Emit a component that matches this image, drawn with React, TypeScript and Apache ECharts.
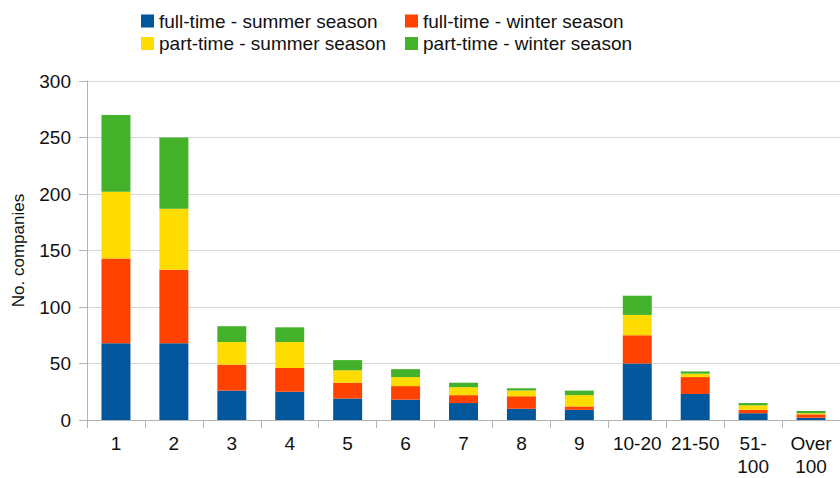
import React, { useEffect, useRef } from "react";
import * as echarts from "echarts";

const categories = ["1", "2", "3", "4", "5", "6", "7", "8", "9", "10-20", "21-50", "51-\n100", "Over\n100"];
const fullTimeSummer = [68, 68, 26, 25, 19, 18, 15, 10, 9, 50, 23, 6, 2];
const fullTimeWinter = [75, 65, 23, 21, 14, 12, 7, 11, 3, 25, 15, 3, 3];
const partTimeSummer = [59, 54, 20, 23, 11, 8, 7, 5, 10, 18, 3, 4, 1];
const partTimeWinter = [68, 63, 14, 13, 9, 7, 4, 2, 4, 17, 2, 2, 2];

const seriesNames = [
  "full-time - summer season",
  "full-time - winter season",
  "part-time - summer season",
  "part-time - winter season",
];
const colors = ["#02569b", "#ff4200", "#ffdc00", "#44b12a"];
const FONT = "'Liberation Sans', Arial, Helvetica, sans-serif";

export default function App() {
  const ref = useRef<HTMLDivElement>(null);
  useEffect(() => {
    if (!ref.current) return;
    const chart = echarts.init(ref.current, undefined, { renderer: "svg" });
    const dataSets = [fullTimeSummer, fullTimeWinter, partTimeSummer, partTimeWinter];
    const legendCommon = {
      orient: "vertical" as const,
      top: 11,
      padding: 0,
      itemGap: 2.5,
      itemWidth: 13,
      itemHeight: 13,
      icon: "rect",
      textStyle: { fontFamily: FONT, fontSize: 19, color: "#111", lineHeight: 20 },
    };
    chart.setOption({
      animation: false,
      color: colors,
      textStyle: { fontFamily: FONT },
      legend: [
        { ...legendCommon, left: 141, data: [seriesNames[0], seriesNames[2]] },
        { ...legendCommon, left: 405, data: [seriesNames[1], seriesNames[3]] },
      ],
      grid: { left: 87, top: 81, width: 758, height: 341, containLabel: false },
      xAxis: {
        type: "category",
        data: categories,
        boundaryGap: true,
        axisLine: { show: true, lineStyle: { color: "#b3b3b3", width: 1 } },
        axisTick: { show: true, length: 8, lineStyle: { color: "#b3b3b3" } },
        axisLabel: {
          fontFamily: FONT,
          fontSize: 19,
          color: "#111",
          margin: 12,
          lineHeight: 23,
          interval: 0,
          align: "center",
        },
      },
      yAxis: {
        type: "value",
        min: 0,
        max: 300,
        interval: 50,
        name: "No. companies",
        nameLocation: "middle",
        nameGap: 60,
        nameTextStyle: { fontFamily: FONT, fontSize: 17, color: "#111" },
        axisLine: { show: true, lineStyle: { color: "#b3b3b3", width: 1 } },
        axisTick: { show: true, length: 8, lineStyle: { color: "#b3b3b3" } },
        axisLabel: { fontFamily: FONT, fontSize: 19, color: "#111", margin: 16 },
        splitLine: { show: true, lineStyle: { color: "#d6d6d6", width: 1 } },
      },
      series: dataSets.map((d, i) => ({
        name: seriesNames[i],
        type: "bar",
        stack: "total",
        data: d,
        barWidth: "50%",
        itemStyle: { color: colors[i] },
      })),
    });
    return () => chart.dispose();
  }, []);
  return <div ref={ref} style={{ width: 840, height: 478, position: "absolute", left: 0, top: 0 }} />;
}
